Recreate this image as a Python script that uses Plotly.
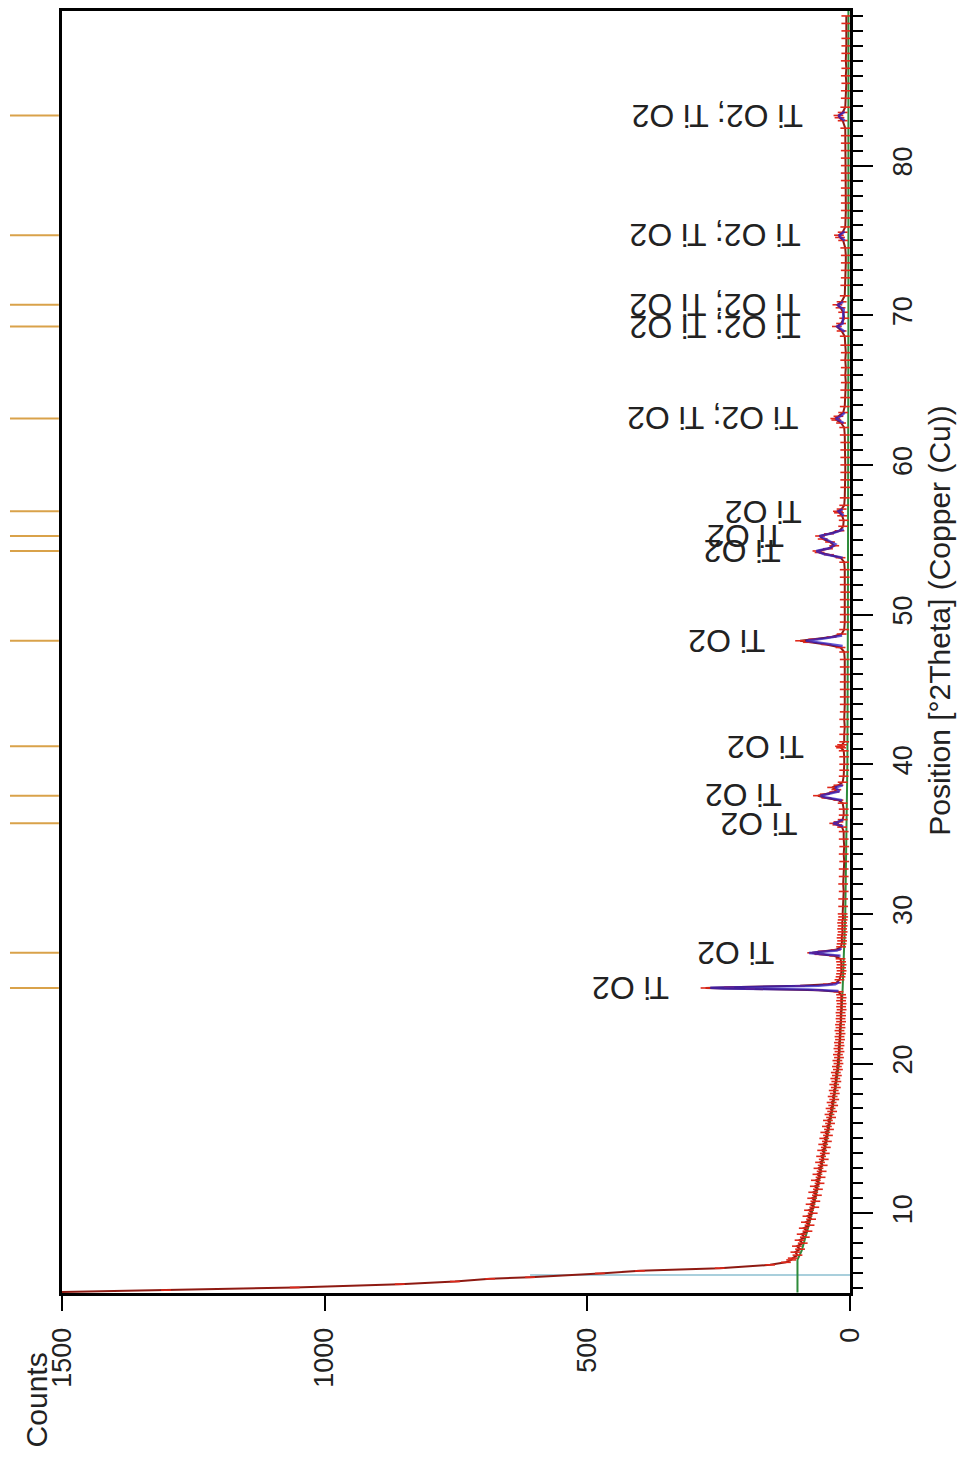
import plotly.graph_objects as go

# --- measured pattern (observed counts vs 2theta) ---
two_theta_obs = [
    4.70, 4.86, 5.04, 5.26, 5.44, 5.62, 5.72, 5.98, 6.15, 6.33, 6.55, 6.72, 6.88,
    7.0, 7.2, 7.4, 7.6, 7.8, 8.0, 8.2, 8.4, 8.6, 8.8, 9.0, 9.2, 9.4, 9.6, 9.8,
    10.0, 10.2, 10.4, 10.6, 10.8, 11.0, 11.2, 11.4, 11.6, 11.8, 12.0, 12.2, 12.4,
    12.6, 12.8, 13.0, 13.2, 13.4, 13.6, 13.8, 14.0, 14.2, 14.4, 14.6, 14.8, 15.0,
    15.2, 15.4, 15.6, 15.8, 16.0, 16.2, 16.4, 16.6, 16.8, 17.0, 17.2, 17.4, 17.6,
    17.8, 18.0, 18.2, 18.4, 18.6, 18.8, 19.0, 19.2, 19.4, 19.6, 19.8, 20.0, 20.2,
    20.4, 20.6, 20.8, 21.0, 21.2, 21.4, 21.6, 21.8, 22.0, 22.2, 22.4, 22.6, 22.8,
    23.0, 23.2, 23.4, 23.6, 23.8, 24.0, 24.2, 24.4, 24.6, 24.8, 24.9, 25.0, 25.05,
    25.1, 25.2, 25.3, 25.4, 25.6, 25.8, 26.0, 26.2, 26.4, 26.6, 26.8, 27.0, 27.2,
    27.3, 27.4, 27.5, 27.6, 27.8, 28.0, 28.2, 28.4, 28.6, 28.8, 29.0, 29.2, 29.4,
    29.6, 29.8, 30.0, 30.5, 31.0, 31.5, 32.0, 32.5, 33.0, 33.5, 34.0, 34.5, 35.0,
    35.5, 35.8, 35.95, 36.05, 36.15, 36.3, 36.6, 37.0, 37.4, 37.6, 37.75, 37.9,
    38.0, 38.15, 38.3, 38.45, 38.6, 38.8, 39.2, 39.6, 40.0, 40.5, 40.9, 41.1, 41.2,
    41.3, 41.5, 42.0, 42.5, 43.0, 43.5, 44.0, 44.5, 45.0, 45.5, 46.0, 46.5, 47.0,
    47.5, 47.8, 48.0, 48.15, 48.25, 48.35, 48.5, 48.7, 49.0, 49.5, 50.0, 50.5,
    51.0, 51.5, 52.0, 52.5, 53.0, 53.5, 53.8, 54.0, 54.15, 54.25, 54.4, 54.6,
    54.85, 55.05, 55.25, 55.4, 55.6, 55.9, 56.3, 56.6, 56.8, 56.9, 57.05, 57.3,
    57.8, 58.5, 59.0, 59.5, 60.0, 60.5, 61.0, 61.5, 62.0, 62.5, 62.8, 63.0, 63.1,
    63.25, 63.5, 63.9, 64.5, 65.0, 65.5, 66.0, 66.5, 67.0, 67.5, 68.0, 68.6,
    68.95, 69.25, 69.45, 69.8, 70.2, 70.5, 70.7, 70.9, 71.3, 72.0, 72.5, 73.0,
    73.5, 74.0, 74.5, 75.0, 75.2, 75.35, 75.55, 75.9, 76.5, 77.0, 77.5, 78.0,
    78.5, 79.0, 79.5, 80.0, 80.5, 81.0, 81.5, 82.0, 82.5, 83.0, 83.2, 83.35,
    83.55, 83.9, 84.5, 85.0, 85.5, 86.0, 86.5, 87.0, 87.5, 88.0, 88.5, 89.0,
    89.5, 90.0,
]
counts_obs = [
    1560, 1302, 1057, 857, 752, 685, 609, 476, 400, 248, 152, 122, 112,
    109, 100, 104, 95, 101, 90, 96, 86, 92, 81, 88, 77, 84, 74, 81,
    71, 78, 68, 75, 66, 72, 63, 70, 61, 67, 58, 65, 56,
    62, 54, 60, 52, 57, 50, 55, 48, 53, 46, 51, 44, 49,
    42, 47, 40, 44, 38, 42, 36, 39, 34, 37, 32, 35, 30,
    33, 29, 31, 27, 30, 26, 28, 25, 27, 23, 25, 22, 24,
    21, 23, 20, 22, 20, 21, 19, 20, 18, 20, 18, 19, 17,
    18, 17, 18, 16, 17, 16, 17, 16, 17, 22, 60, 190, 275,
    230, 95, 42, 26, 20, 18, 17, 16, 17, 16, 17, 18, 30,
    58, 72, 52, 27, 17, 16, 15, 16, 15, 14, 15, 14, 15,
    14, 13, 14, 13, 13, 12, 13, 12, 12, 11, 12, 11, 12,
    12, 15, 24, 30, 22, 14, 12, 12, 14, 22, 45, 61,
    48, 30, 26, 34, 22, 14, 12, 11, 11, 11, 12, 17, 19,
    15, 11, 11, 10, 11, 10, 10, 10, 10, 10, 9, 10, 10,
    11, 18, 45, 80, 95, 70, 35, 16, 11, 10, 10, 9,
    10, 9, 10, 10, 10, 11, 18, 40, 58, 62, 42, 30,
    38, 52, 57, 40, 20, 13, 12, 15, 21, 23, 16, 11,
    10, 9, 9, 9, 9, 9, 9, 9, 10, 11, 17, 26, 28,
    22, 13, 10, 9, 9, 8, 9, 8, 9, 8, 9, 10,
    16, 25, 17, 11, 13, 18, 24, 16, 10, 9, 8, 8,
    8, 8, 9, 13, 19, 21, 14, 9, 8, 8, 8, 8,
    8, 8, 8, 8, 8, 8, 8, 8, 9, 14, 20, 22,
    14, 9, 8, 8, 7, 8, 7, 8, 7, 7, 7, 7,
    7, 7,
]

# --- calculated profile around the fitted reflections (None splits segments) ---
two_theta_calc = [
    24.85, 24.95, 25.02, 25.07, 25.12, 25.2, 25.3, 25.45, None,
    27.2, 27.3, 27.38, 27.46, 27.55, 27.7, None,
    35.85, 35.97, 36.05, 36.13, 36.3, None,
    37.6, 37.8, 37.9, 38.0, 38.2, 38.45, 38.6, None,
    47.9, 48.1, 48.25, 48.4, 48.6, None,
    53.8, 54.05, 54.25, 54.45, 54.7, 55.0, 55.25, 55.45, 55.7, None,
    56.6, 56.8, 56.9, 57.05, None,
    62.8, 63.0, 63.1, 63.3, 63.5, None,
    68.9, 69.15, 69.25, 69.45, 70.4, 70.6, 70.7, 70.9, None,
    75.0, 75.25, 75.35, 75.6, None,
    83.0, 83.25, 83.35, 83.6,
]
counts_calc = [
    22, 80, 240, 266, 180, 60, 28, 20, None,
    18, 50, 78, 60, 25, 16, None,
    13, 26, 32, 24, 13, None,
    15, 48, 56, 44, 20, 28, 14, None,
    14, 60, 84, 50, 15, None,
    14, 50, 64, 38, 28, 45, 58, 32, 12, None,
    12, 20, 22, 14, None,
    12, 24, 27, 16, 10, None,
    10, 22, 24, 14, 12, 21, 23, 13, None,
    10, 19, 20, 10, None,
    10, 20, 21, 10,
]

# --- background ---
two_theta_bg = [4.70, 6.88, 7.5, 9.0, 11.0, 14.0, 17.0, 20.0, 25.0, 30.0,
                40.0, 50.0, 60.0, 70.0, 80.0, 90.33]
counts_bg = [100, 100, 92, 80, 66, 50, 33, 21, 14, 9, 5, 4, 3, 3, 3, 3]

# --- low-angle marker line ---
marker_theta = [5.87, 5.87]
marker_counts = [0, 609]

# --- reference pattern positions and phase labels ---
ref_positions = [25.05, 27.4, 36.05, 37.9, 41.2, 48.25, 54.25, 55.25, 56.9,
                 63.1, 69.25, 70.7, 75.35, 83.35]
label_positions = [25.05, 27.4, 36.05, 37.9, 41.2, 48.25, 54.25, 55.25, 56.9,
                   63.1, 69.25, 70.7, 75.35, 83.35]
label_heights = [276, 76, 32, 61, 19, 92, 63, 57, 23, 30, 25, 25, 25, 22]
label_texts = ["Ti O2", "Ti O2", "Ti O2", "Ti O2", "Ti O2", "Ti O2", "Ti O2",
               "Ti O2", "Ti O2", "Ti O2; Ti O2", "Ti O2; Ti O2", "Ti O2; Ti O2",
               "Ti O2; Ti O2", "Ti O2; Ti O2"]

count_ticks = [0, 500, 1000, 1500]
theta_ticks = [10, 20, 30, 40, 50, 60, 70, 80]

FONT = "Liberation Sans, Arial, sans-serif"

fig = go.Figure()

fig.add_trace(go.Scatter(
    x=marker_counts, y=marker_theta, mode="lines",
    line=dict(color="#a9cfdc", width=2), hoverinfo="skip"))

fig.add_trace(go.Scatter(
    x=counts_bg, y=two_theta_bg, mode="lines",
    line=dict(color="#2e8b3a", width=2), hoverinfo="skip"))

fig.add_trace(go.Scatter(
    x=counts_obs, y=two_theta_obs, mode="lines+markers",
    line=dict(color="#8e1a12", width=2),
    marker=dict(symbol="line-ew", size=7, line=dict(color="#e0281a", width=1.6)),
    hoverinfo="skip"))

fig.add_trace(go.Scatter(
    x=counts_calc, y=two_theta_calc, mode="lines", connectgaps=False,
    line=dict(color="#2a20c8", width=2.5), opacity=0.75, hoverinfo="skip"))

shapes = []
for p in ref_positions:
    shapes.append(dict(type="line", xref="paper", yref="y",
                       x0=-0.066, x1=-0.004, y0=p, y1=p,
                       line=dict(color="#d9a24a", width=2)))

annotations = []
for p, h, t in zip(label_positions, label_heights, label_texts):
    annotations.append(dict(
        x=h, y=p, xref="x", yref="y", text=t, showarrow=False,
        textangle=180, xanchor="right", yanchor="middle", xshift=-34,
        font=dict(family=FONT, size=32, color="#222222")))

annotations.append(dict(
    x=-0.033, y=-0.083, xref="paper", yref="paper", text="Counts",
    showarrow=False, textangle=-90, xanchor="center", yanchor="middle",
    font=dict(family=FONT, size=30, color="#222222")))
annotations.append(dict(
    x=1.114, y=0.525, xref="paper", yref="paper",
    text="Position [°2Theta] (Copper (Cu))",
    showarrow=False, textangle=-90, xanchor="center", yanchor="middle",
    font=dict(family=FONT, size=30, color="#222222")))

fig.update_layout(
    width=965, height=1459, autosize=False,
    margin=dict(l=62, r=115, t=8, b=166),
    paper_bgcolor="white", plot_bgcolor="white",
    showlegend=False,
    shapes=shapes, annotations=annotations,
    xaxis=dict(
        range=[1500, 0], tickvals=count_ticks,
        ticks="outside", ticklen=15, tickwidth=2, tickcolor="black",
        tickangle=-90, tickfont=dict(family=FONT, size=27, color="#222222"),
        showline=True, linewidth=3, linecolor="black", mirror=True,
        showgrid=False, zeroline=False, ticklabelstandoff=6),
    yaxis=dict(
        range=[4.67, 90.33], side="right", tickvals=theta_ticks,
        ticks="outside", ticklen=20, tickwidth=2, tickcolor="black",
        minor=dict(dtick=1, ticks="outside", ticklen=10, tickwidth=1.5,
                   tickcolor="black"),
        tickangle=-90, tickfont=dict(family=FONT, size=27, color="#222222"),
        showline=True, linewidth=3, linecolor="black", mirror=True,
        showgrid=False, zeroline=False, ticklabelstandoff=7),
)

fig.write_html("out.html")
